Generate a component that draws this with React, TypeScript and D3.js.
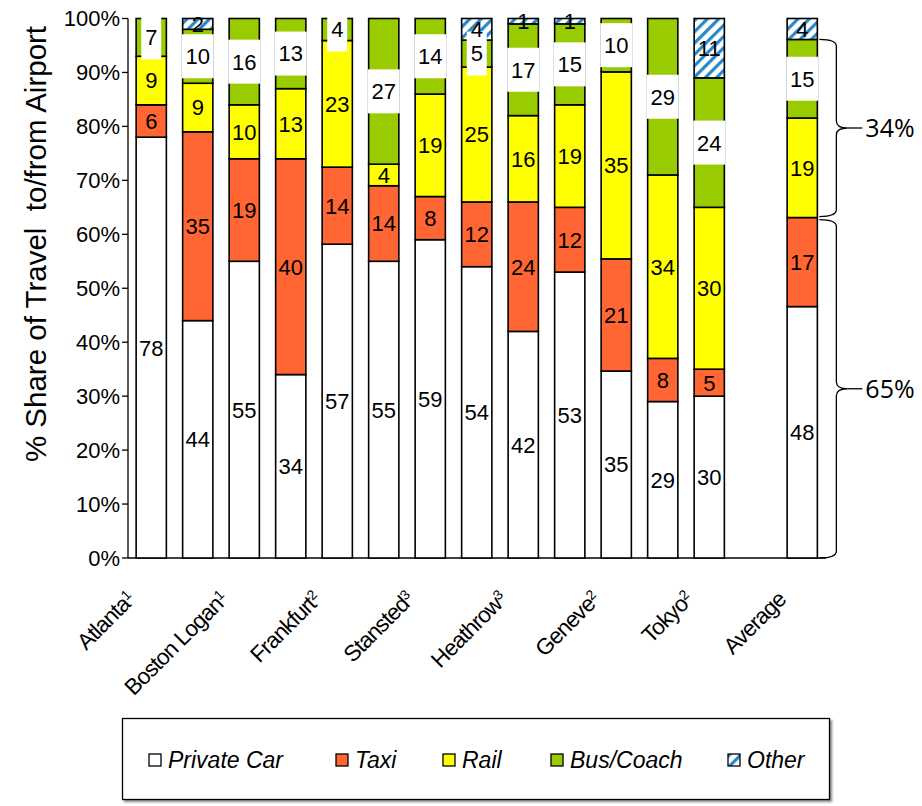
import React from "react";
import * as d3 from "d3";

// ---------- data ----------
const tickLabels = ["Atlanta", "", "Boston Logan", "", "Frankfurt", "", "Stansted", "", "Heathrow", "", "Geneve", "", "Tokyo", "Average"];
const tickNotes = ["1", "", "1", "", "2", "", "3", "", "3", "", "2", "", "2", ""];
const privateCar = [78, 44, 55, 34, 57, 55, 59, 54, 42, 53, 35, 29, 30, 48];
const taxi = [6, 35, 19, 40, 14, 14, 8, 12, 24, 12, 21, 8, 5, 17];
const rail = [9, 9, 10, 13, 23, 4, 19, 25, 16, 19, 35, 34, 30, 19];
const busCoach = [7, 10, 16, 13, 4, 27, 14, 5, 17, 15, 10, 29, 24, 15];
const other = [0, 2, 0, 0, 0, 0, 0, 4, 1, 1, 0, 0, 11, 4];
const seriesNames = ["Private Car", "Taxi", "Rail", "Bus/Coach", "Other"];
const yTicks = [0, 0.1, 0.2, 0.3, 0.4, 0.5, 0.6, 0.7, 0.8, 0.9, 1];

const keys = ["privateCar", "taxi", "rail", "busCoach", "other"];
const fills = ["#ffffff", "#ff6633", "#ffff00", "#99cc00", "url(#hatch)"];

const FONT = "'Liberation Sans', Arial, sans-serif";

export default function App() {
  const rows = tickLabels.map((_, i) => ({
    id: String(i),
    privateCar: privateCar[i],
    taxi: taxi[i],
    rail: rail[i],
    busCoach: busCoach[i],
    other: other[i],
  }));
  const stacked = d3.stack<any>().keys(keys).offset(d3.stackOffsetExpand)(rows);
  const n = rows.length;
  const slots = [...rows.slice(0, n - 1).map((r) => r.id), "gap", rows[n - 1].id];
  const x = d3.scaleBand<string>().domain(slots).range([128, 825.5]).paddingInner(0.35).paddingOuter(0.175);
  const y = d3.scaleLinear().domain([0, 1]).range([558, 18.5]);
  const bw = x.bandwidth();
  const vals = [privateCar, taxi, rail, busCoach, other];

  const avg = n - 1;
  const railBottom = stacked[2][avg][0];
  const busTop = stacked[3][avg][1];
  const upperPct = rail[avg] + busCoach[avg];
  const lowerPct = privateCar[avg] + taxi[avg];

  const brace = (x0: number, yTop: number, yBot: number) => {
    const x1 = x0 + 17;
    const x2 = x1 + 11;
    const ym = (yTop + yBot) / 2;
    const r = 7;
    return `M${x0},${yTop} C${x1 - 5},${yTop} ${x1},${yTop + 2} ${x1},${yTop + r} L${x1},${ym - r} C${x1},${ym - 2} ${x1 + 5},${ym} ${x2},${ym} C${x1 + 5},${ym} ${x1},${ym + 2} ${x1},${ym + r} L${x1},${yBot - r} C${x1},${yBot - 2} ${x1 - 5},${yBot} ${x0},${yBot}`;
  };
  const bx0 = (x(rows[avg].id) as number) + bw + 2;
  const braces = [
    { t: y(busTop), b: y(railBottom) - 1, label: `${upperPct}%` },
    { t: y(railBottom) + 2, b: y(0), label: `${lowerPct}%` },
  ];

  const legendX = [149, 336, 443, 551, 728];

  return (
    <svg width={922} height={806} style={{ position: "absolute", left: 0, top: 0, background: "#fff" }} fontFamily={FONT}>
      <defs>
        <pattern id="hatch" patternUnits="userSpaceOnUse" width={8} height={8} patternTransform="rotate(45)">
          <rect width={8} height={8} fill="#fff" />
          <rect width={3.2} height={8} fill="#2b88c6" />
        </pattern>
        <clipPath id="plotClip">
          <rect x={0} y={17} width={922} height={600} />
        </clipPath>
        <filter id="shadow" x="-5%" y="-5%" width="110%" height="120%">
          <feDropShadow dx={2} dy={2} stdDeviation={1.2} floodColor="#000" floodOpacity={0.45} />
        </filter>
      </defs>

      {/* y title */}
      <text
        transform={`translate(46, 244) rotate(-90)`}
        textAnchor="middle"
        fontSize={29.5}
        style={{ whiteSpace: "pre" }}
      >
        {"% Share of Travel  to/from Airport"}
      </text>

      {/* y axis */}
      <line x1={128} x2={128} y1={y(1)} y2={y(0)} stroke="#000" strokeWidth={1.3} />
      {yTicks.map((t) => (
        <g key={t}>
          <line x1={122} x2={128} y1={y(t)} y2={y(t)} stroke="#000" strokeWidth={1.3} />
          <text x={120} y={y(t)} dy="0.36em" textAnchor="end" fontSize={22}>
            {d3.format(".0%")(t)}
          </text>
        </g>
      ))}
      {/* x axis */}
      <line x1={128} x2={826} y1={y(0)} y2={y(0)} stroke="#000" strokeWidth={1.3} />

      {/* bars */}
      {stacked.map((s, si) => (
        <g key={s.key}>
          {s.map((d, i) =>
            d[1] - d[0] > 0 ? (
              <rect
                key={i}
                x={x(rows[i].id)}
                y={y(d[1])}
                width={bw}
                height={y(d[0]) - y(d[1])}
                fill={fills[si]}
                stroke="#000"
                strokeWidth={1.6}
              />
            ) : null
          )}
        </g>
      ))}

      {/* data label boxes (Bus/Coach) */}
      <g clipPath="url(#plotClip)">
        {stacked[3].map((d, i) => {
          const v = busCoach[i];
          if (!v) return null;
          const cx = (x(rows[i].id) as number) + bw / 2;
          const cy = (y(d[0]) + y(d[1])) / 2;
          const boxW = String(v).length * 12 + 8;
          return <rect key={`b${i}`} x={cx - boxW / 2} y={cy - 22} width={boxW} height={44} fill="#fff" />;
        })}
      </g>
      {stacked.map((s, si) =>
        s.map((d, i) => {
          const v = vals[si][i];
          if (!v) return null;
          const cx = (x(rows[i].id) as number) + bw / 2;
          const cy = (y(d[0]) + y(d[1])) / 2;
          return (
            <text key={`t${si}-${i}`} x={cx} y={cy} dy="0.36em" textAnchor="middle" fontSize={22}>
              {v}
            </text>
          );
        })
      )}

      {/* category labels */}
      {rows.map((r, i) =>
        tickLabels[i] ? (
          <text
            key={r.id}
            transform={`translate(${(x(r.id) as number) + bw / 2 - 15}, 601) rotate(-45)`}
            textAnchor="end"
            fontSize={22.5}
            letterSpacing={-0.9}
          >
            {tickLabels[i]}
            {tickNotes[i] ? (
              <tspan fontSize={14} dy={-7}>
                {tickNotes[i]}
              </tspan>
            ) : null}
          </text>
        ) : null
      )}

      {/* braces */}
      {braces.map((b, k) => {
        const ym = (b.t + b.b) / 2;
        return (
          <g key={k}>
            <path d={brace(bx0, b.t, b.b)} fill="none" stroke="#000" strokeWidth={1.3} />
            <line x1={bx0 + 28} x2={bx0 + 43} y1={ym} y2={ym} stroke="#000" strokeWidth={1.3} />
            <text x={bx0 + 46} y={ym} dy="0.36em" fontSize={25} fontFamily="'Open Sans', sans-serif">
              {b.label}
            </text>
          </g>
        );
      })}

      {/* legend */}
      <rect x={122.5} y={718.5} width={707} height={81} fill="#fff" stroke="#000" strokeWidth={1.3} filter="url(#shadow)" />
      {seriesNames.map((name, k) => (
        <g key={name}>
          <rect x={legendX[k]} y={754} width={12} height={12} fill={fills[k]} stroke="#000" strokeWidth={1.3} />
          <text x={legendX[k] + 19} y={760} dy="0.36em" fontSize={23} fontStyle="italic">
            {name}
          </text>
        </g>
      ))}
    </svg>
  );
}
